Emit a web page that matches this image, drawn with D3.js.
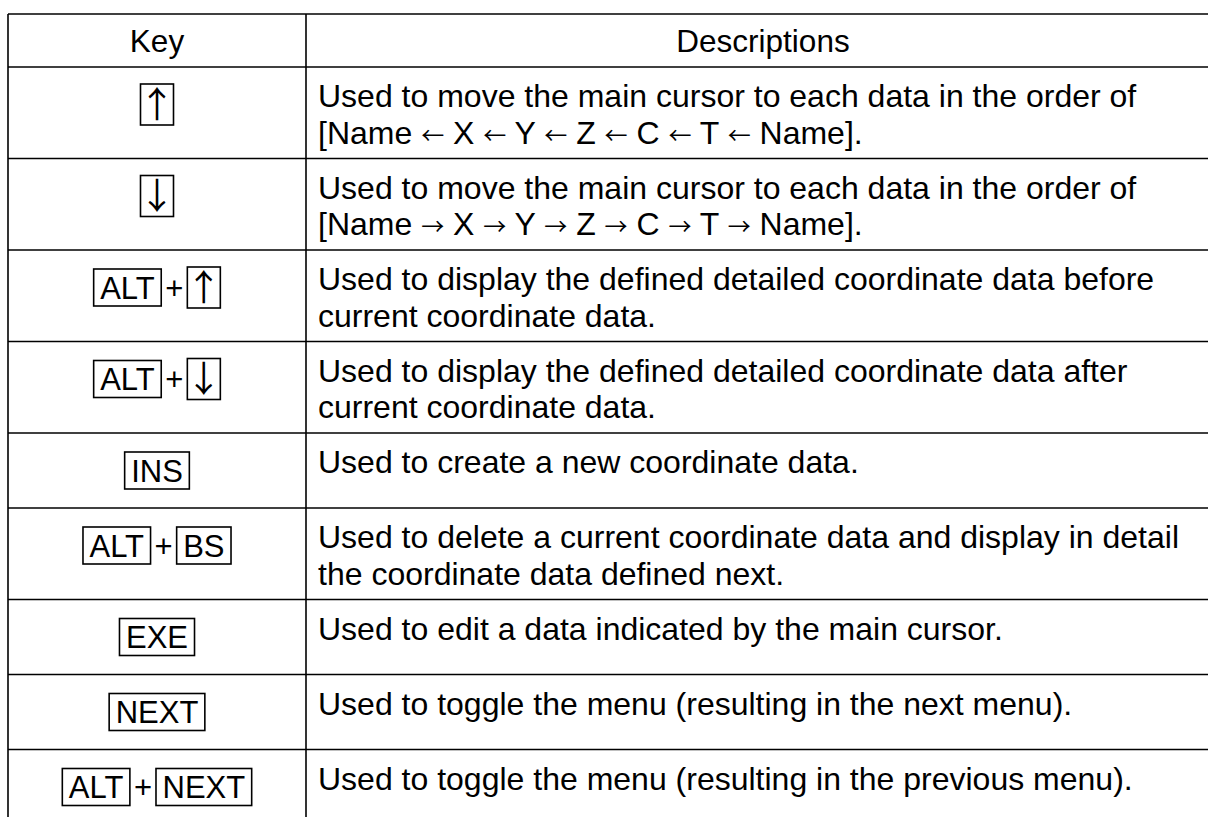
<!DOCTYPE html>
<html>
<head>
<meta charset="utf-8">
<script src="https://cdn.jsdelivr.net/npm/d3@7"></script>
<style>
  html, body { margin: 0; padding: 0; background: #fff; }
  svg { display: block; }
  text { font-family: "Liberation Sans", Arial, sans-serif; fill: #000; }
  .arrow { font-family: "Noto Sans CJK JP", "DejaVu Sans", sans-serif; }
</style>
</head>
<body>
<svg id="chart" width="1208" height="817"></svg>
<script>
// ---- data ----
const headers = ["Key", "Descriptions"];
const keyCombos = [
  ["↑"],
  ["↓"],
  ["ALT", "↑"],
  ["ALT", "↓"],
  ["INS"],
  ["ALT", "BS"],
  ["EXE"],
  ["NEXT"],
  ["ALT", "NEXT"]
];
const descriptionLines = [
  ["Used to move the main cursor to each data in the order of", "[Name ← X ← Y ← Z ← C ← T ← Name]."],
  ["Used to move the main cursor to each data in the order of", "[Name → X → Y → Z → C → T → Name]."],
  ["Used to display the defined detailed coordinate data before", "current coordinate data."],
  ["Used to display the defined detailed coordinate data after", "current coordinate data."],
  ["Used to create a new coordinate data."],
  ["Used to delete a current coordinate data and display in detail", "the coordinate data defined next."],
  ["Used to edit a data indicated by the main cursor."],
  ["Used to toggle the menu (resulting in the next menu)."],
  ["Used to toggle the menu (resulting in the previous menu)."]
];

// ---- layout ----
const HEAD_FONT = 31.5, BODY_FONT = 32, KEY_FONT = 31, ARROW_FONT = 23, KEY_ARROW_FONT = 36;
const tblLeft = 8, tblDivider = 306, tblRight = 1222;
const tblTop = 14, headerH = 53;
const lineGap = 36.5;
const rowHeight = d => d.length > 1 ? 91.5 : 75;

const rows = keyCombos.map((k, i) => ({ keys: k, lines: descriptionLines[i] }));
const heights = rows.map(r => rowHeight(r.lines));
const tops = [0, ...d3.cumsum(heights)].map(v => v + tblTop + headerH);
const tblBottom = tops[tops.length - 1];

const yRow = d3.scaleOrdinal().domain(d3.range(rows.length)).range(tops.slice(0, rows.length));
const xCol = d3.scaleOrdinal().domain(headers).range([tblLeft, tblDivider]);
const colCenter = d3.scaleOrdinal().domain(headers).range([(tblLeft + tblDivider) / 2, 763]);

const svg = d3.select("#chart");

// grid lines
const g = svg.append("g").attr("stroke", "#000").attr("stroke-width", 1.6).attr("fill", "none");
const hLines = [tblTop, tblTop + headerH, ...tops.slice(1)];
g.selectAll("line.h").data(hLines).join("line").attr("class", "h")
  .attr("x1", tblLeft).attr("x2", tblRight).attr("y1", d => d).attr("y2", d => d);
g.selectAll("line.v").data([tblLeft, tblDivider, tblRight]).join("line").attr("class", "v")
  .attr("x1", d => d).attr("x2", d => d).attr("y1", tblTop).attr("y2", tblBottom);

// header
svg.selectAll("text.header").data(headers).join("text").attr("class", "header")
  .attr("x", d => colCenter(d))
  .attr("y", tblTop + headerH / 2 + HEAD_FONT * 0.358)
  .attr("text-anchor", "middle")
  .style("font-size", HEAD_FONT + "px")
  .text(d => d);

// description text (arrows rendered in a font with thin line arrows)
const arrowRe = /([←→↑↓])/;
const desc = svg.selectAll("g.desc").data(rows).join("g").attr("class", "desc")
  .attr("transform", (d, i) => `translate(${xCol("Descriptions") + 12},${yRow(i)})`);
desc.selectAll("text").data(d => d.lines).join("text")
  .attr("x", 0)
  .attr("y", (d, j) => 29 + BODY_FONT * 0.358 + j * lineGap)
  .style("font-size", BODY_FONT + "px")
  .each(function(line) {
    const t = d3.select(this);
    line.split(arrowRe).filter(s => s.length).forEach(part => {
      const ts = t.append("tspan").text(part);
      if (arrowRe.test(part)) ts.attr("class", "arrow").style("font-size", ARROW_FONT + "px");
    });
  });

// key combos
const isArrow = s => arrowRe.test(s);
rows.forEach((r, i) => {
  const cy = yRow(i) + 37.5;
  const kg = svg.append("g").attr("class", "keys");
  let x = 0;
  r.keys.forEach((k, j) => {
    if (j > 0) {
      const plus = kg.append("text").attr("x", x + 4).attr("y", cy + KEY_FONT * 0.358)
        .style("font-size", KEY_FONT + "px").text("+");
      x += 4 + plus.node().getComputedTextLength() + 4;
    }
    let w, bh;
    if (isArrow(k)) {
      w = 33; bh = 41;
      kg.append("text").attr("class", "arrow")
        .attr("x", x + w / 2).attr("y", cy + KEY_ARROW_FONT * 0.37)
        .attr("text-anchor", "middle")
        .style("font-size", KEY_ARROW_FONT + "px").text(k);
    } else {
      const pad = 6.5; bh = 37;
      const t = kg.append("text").attr("x", x + pad).attr("y", cy + KEY_FONT * 0.358)
        .style("font-size", KEY_FONT + "px").text(k);
      w = t.node().getComputedTextLength() + 2 * pad;
    }
    kg.insert("rect", "text").attr("x", x).attr("y", cy - bh / 2)
      .attr("width", w).attr("height", bh)
      .attr("fill", "none").attr("stroke", "#000").attr("stroke-width", 1.6);
    x += w;
  });
  kg.attr("transform", `translate(${colCenter("Key") - x / 2},0)`);
});
</script>
</body>
</html>
